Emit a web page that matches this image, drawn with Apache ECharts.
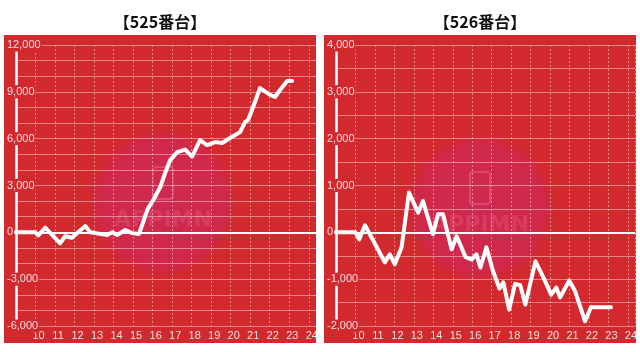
<!DOCTYPE html>
<html><head><meta charset="utf-8">
<script src="https://cdn.jsdelivr.net/npm/echarts@6/dist/echarts.min.js"></script>
<style>html,body{margin:0;padding:0;background:#fff}#c{width:640px;height:352px}</style>
</head><body><div id="c"></div>
<script>
const titles = ['【525番台】', '【526番台】'];
const hourTicks = [10, 11, 12, 13, 14, 15, 16, 17, 18, 19, 20, 21, 22, 23, 24];

const times525 = [9, 10, 10.14, 10.5, 11.26, 11.52, 11.86, 12.55, 12.8, 13.3, 13.67, 13.93, 14.18, 14.6, 14.95, 15.3, 15.5, 15.75, 16.05, 16.39, 16.64, 16.9, 17.26, 17.67, 18.02, 18.43, 18.79, 19.2, 19.56, 19.97, 20.48, 20.74, 20.89, 21.15, 21.5, 22.02, 22.27, 22.53, 22.89, 23.14];
const values525 = [0, 0, -200, 300, -700, -250, -350, 400, 0, -100, -170, 0, -170, 150, -50, -100, 600, 1500, 2100, 2900, 3800, 4630, 5140, 5300, 4850, 5910, 5590, 5780, 5720, 6040, 6420, 7070, 7190, 8030, 9240, 8800, 8670, 9120, 9690, 9690];

const times526 = [9, 10, 10.19, 10.49, 11.51, 11.77, 12.02, 12.37, 12.75, 13.22, 13.47, 13.98, 14.24, 14.5, 14.94, 15.2, 15.66, 15.96, 16.22, 16.42, 16.73, 17.04, 17.4, 17.6, 17.9, 18.2, 18.47, 18.73, 19.25, 19.7, 20.06, 20.32, 20.52, 20.98, 21.29, 21.8, 22.1, 23.13];
const values526 = [0, 0, -150, 150, -640, -470, -680, -320, 850, 420, 670, -40, 385, 385, -360, -85, -530, -580, -470, -750, -320, -790, -1200, -1070, -1650, -1100, -1130, -1540, -620, -1000, -1330, -1180, -1390, -1030, -1260, -1900, -1600, -1600];

const yRange525 = [-6000, 12000];
const yRange526 = [-2000, 4000];
const yGridStep = [1000, 500];
const yLabelStep = [3000, 1000];

function pairs(t, v) { return t.map((x, i) => [x, v[i]]); }

const RED = '#d1292e';
const labelFont = '"Liberation Sans Narrow", "Arial Narrow", sans-serif';
const labelColor = 'rgba(255,255,255,0.84)';
const gridColor = 'rgba(255,255,255,0.43)';

const grids = [
  {left: 16, right: 324, top: 45, bottom: 26},
  {left: 336, right: 4, top: 45, bottom: 26}
];
const xAxes = [0, 1].map(i => ({
  type: 'value', gridIndex: i, min: 9, max: 24.37, interval: 1,
  axisLine: {show: false}, axisTick: {show: false},
  axisLabel: {
    color: labelColor, fontFamily: labelFont, fontSize: 11, margin: 4,
    padding: [0, 0, 0, 6], showMinLabel: false, showMaxLabel: false,
    formatter: v => (hourTicks.indexOf(v) >= 0 ? String(v) : '')
  },
  splitLine: {show: true, lineStyle: {color: gridColor, type: [2, 2], width: 1}}
}));
const ranges = [yRange525, yRange526];
const yAxes = [];
[0, 1].forEach(i => {
  yAxes.push({
    type: 'value', gridIndex: i, min: ranges[i][0], max: ranges[i][1], interval: yGridStep[i],
    position: 'left', z: 1,
    axisLine: {show: true, onZero: false, lineStyle: {color: '#fff', width: 2.5}},
    axisTick: {show: false}, axisLabel: {show: false},
    splitLine: {show: true, lineStyle: {color: gridColor, width: 1}}
  });
  yAxes.push({
    type: 'value', gridIndex: i, min: ranges[i][0], max: ranges[i][1], interval: yLabelStep[i],
    position: 'left', z: 4,
    axisLine: {show: false}, axisTick: {show: false}, splitLine: {show: false},
    axisLabel: {
      color: labelColor, fontFamily: labelFont, fontSize: 11, align: 'left', margin: 9,
      backgroundColor: RED, padding: [1, 1, 1, 0],
      formatter: v => v.toLocaleString('en-US')
    }
  });
});

const dataSets = [pairs(times525, values525), pairs(times526, values526)];
const series = [0, 1].map(i => ({
  type: 'line', xAxisIndex: i, yAxisIndex: i * 2, data: dataSets[i],
  symbol: 'none', z: 5,
  lineStyle: {color: '#fff', width: 4, join: 'round', cap: 'round'},
  markLine: {
    silent: true, symbol: 'none', label: {show: false},
    lineStyle: {color: '#fff', width: 2, type: 'solid'},
    data: [{yAxis: 0}], z: 3
  }
}));

const wmCenters = [[163, 203], [480, 208]];
const graphics = [];
[4, 324].forEach(x => graphics.push({type: 'rect', z: -20, silent: true,
  shape: {x: x, y: 35, width: 312, height: 308}, style: {fill: RED}}));
wmCenters.forEach(c => {
  graphics.push({type: 'circle', z: -15, silent: true, shape: {cx: c[0], cy: c[1], r: 74},
    style: {fill: {type: 'radial', x: 0.5, y: 0.5, r: 0.5, colorStops: [
      {offset: 0, color: 'rgba(205,40,125,0.42)'}, {offset: 0.85, color: 'rgba(205,40,125,0.35)'},
      {offset: 1, color: 'rgba(205,40,125,0)'}]}}});
  graphics.push({type: 'rect', z: -14, silent: true,
    shape: {x: c[0] - 10, y: c[1] - 36, width: 20, height: 32, r: 3},
    style: {fill: 'none', stroke: 'rgba(240,120,160,0.4)', lineWidth: 2}});
  graphics.push({type: 'text', z: -14, silent: true, x: c[0], y: c[1] + 17,
    style: {text: 'APPIMN', font: 'bold 22px "DejaVu Sans"', fill: 'rgba(240,120,160,0.25)',
      align: 'center', verticalAlign: 'middle', textAlign: 'center', textVerticalAlign: 'middle'}});
});
[160, 480].forEach((x, i) => graphics.push({type: 'text', z: 10, x: x, y: 22,
  style: {text: titles[i], font: 'bold 16px "Noto Sans CJK JP"', fill: '#111',
    align: 'center', verticalAlign: 'middle', textAlign: 'center', textVerticalAlign: 'middle'}}));

const chart = echarts.init(document.getElementById('c'), null, {renderer: 'canvas'});
chart.setOption({
  backgroundColor: '#ffffff',
  animation: false,
  grid: grids,
  xAxis: xAxes,
  yAxis: yAxes,
  series: series,
  graphic: {elements: graphics}
});
</script>
</body></html>
